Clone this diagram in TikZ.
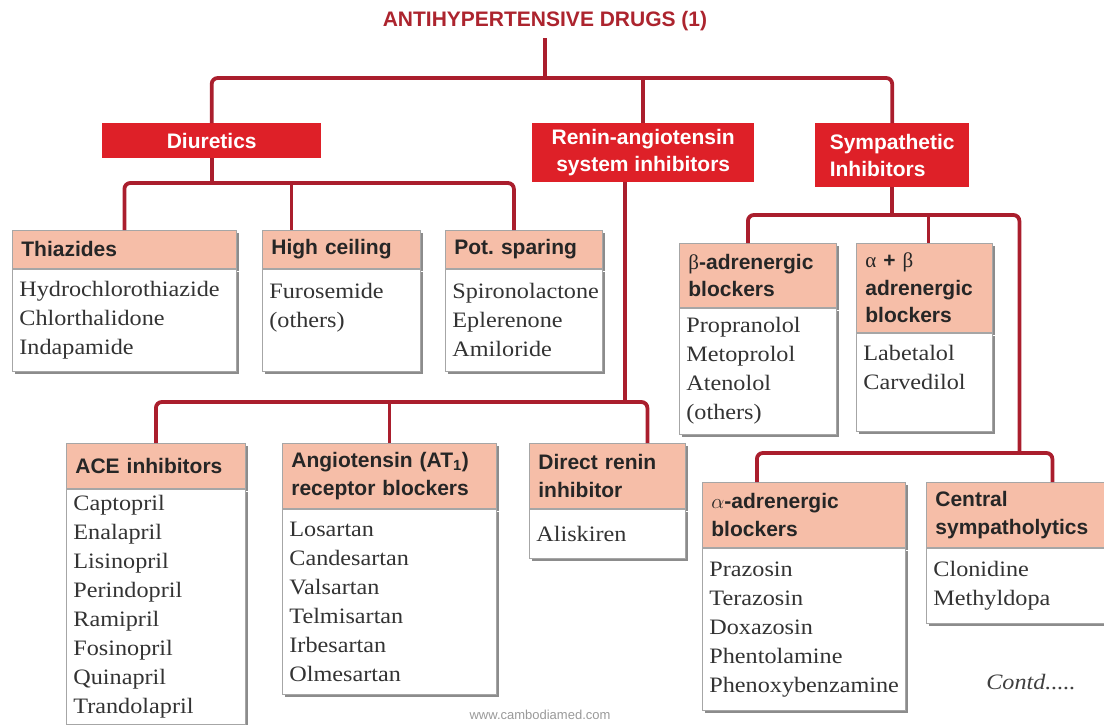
\documentclass[tikz,border=0pt]{standalone}
\usepackage{fontspec}
\setmainfont{Liberation Serif}
\setsansfont{Liberation Sans}
\newfontfamily\drugfont[FakeStretch=1.1]{Liberation Serif}
\usetikzlibrary{positioning,shadows}
\definecolor{linkred}{RGB}{170,30,45}
\definecolor{boxred}{RGB}{222,32,40}
\definecolor{headpink}{RGB}{246,190,168}
\definecolor{titlered}{RGB}{172,36,46}

\begin{document}
\begin{tikzpicture}[x=1pt,y=-1pt,
  link/.style={draw=linkred,line width=3.8pt,rounded corners=6pt},
  classbox/.style={fill=boxred,text=white,anchor=north west,inner sep=0pt,font=\sffamily\bfseries\fontsize{21}{27}\selectfont},
  boxshade/.style={drop shadow={shadow xshift=3pt,shadow yshift=-3pt,fill=black!45,opacity=1}},
  headbox/.style={boxshade,fill=headpink,draw=black!35,line width=.8pt,anchor=north west,align=left,inner xsep=9pt,inner ysep=4pt,text=black!85,font=\sffamily\bfseries\fontsize{21}{27.5}\selectfont},
  listbox/.style={boxshade,fill=white,draw=black!35,line width=.8pt,align=left,inner xsep=7pt,inner ysep=5pt,text=black!80,font=\drugfont\fontsize{22}{29}\selectfont}]
\useasboundingbox (0,0) rectangle (1104,725);
\node[font=\sffamily\bfseries\fontsize{21}{25}\selectfont,text=titlered] (title) at (545,21) {ANTIHYPERTENSIVE DRUGS (1)};

\node[classbox,minimum width=219pt,minimum height=35pt] (dir) at (102,123) {Diuretics};
\node[classbox,align=center,minimum width=222pt,minimum height=59pt] (ras) at (532,123) {Renin-angiotensin\\system inhibitors};
\node[classbox,align=left,minimum width=154pt,minimum height=64pt] (sym) at (815,123) {Sympathetic\\Inhibitors};

\node[headbox,text width=206pt,minimum height=38pt] (thz) at (12,230) {Thiazides};
\node[listbox,text width=210pt,minimum height=102pt,below=0pt of thz] (thzL) {Hydrochlorothiazide\\Chlorthalidone\\Indapamide};
\node[headbox,text width=140pt,minimum height=38pt] (hc) at (262,230) {High ceiling};
\node[listbox,text width=144pt,minimum height=102pt,below=0pt of hc] (hcL) {Furosemide\\(others)\\\mbox{}};
\node[headbox,text width=139pt,minimum height=38pt] (pot) at (445,230) {Pot.\ sparing};
\node[listbox,text width=143pt,minimum height=102pt,below=0pt of pot] (potL) {Spironolactone\\Eplerenone\\Amiloride};

\node[headbox,text width=139pt,minimum height=64pt] (beta) at (679,243) {{\rmfamily\mdseries β}-adrenergic\\blockers};
\node[listbox,text width=143pt,minimum height=126pt,below=0pt of beta] (betaL) {Propranolol\\Metoprolol\\Atenolol\\(others)};
\node[headbox,text width=118pt,minimum height=89pt] (ab) at (856,243) {{\rmfamily\mdseries α} + {\rmfamily\mdseries β}\\adrenergic\\blockers};
\node[listbox,text width=122pt,minimum height=98pt,below=0pt of ab] (abL) {Labetalol\\Carvedilol\\\mbox{}};

\node[headbox,text width=161pt,minimum height=45pt] (ace) at (66,443) {ACE inhibitors};
\node[listbox,text width=165pt,minimum height=235pt,below=0pt of ace] (aceL) {Captopril\\Enalapril\\Lisinopril\\Perindopril\\Ramipril\\Fosinopril\\Quinapril\\Trandolapril};
\node[headbox,text width=196pt,minimum height=65pt] (arb) at (282,443) {Angiotensin (AT\textsubscript{1})\\receptor blockers};
\node[listbox,text width=200pt,minimum height=185pt,below=0pt of arb] (arbL) {Losartan\\Candesartan\\Valsartan\\Telmisartan\\Irbesartan\\Olmesartan};
\node[headbox,text width=138pt,minimum height=65pt] (dri) at (529,443) {Direct renin\\inhibitor};
\node[listbox,text width=142pt,minimum height=49pt,below=0pt of dri] (driL) {Aliskiren};

\node[headbox,text width=185pt,minimum height=65pt] (alpha) at (702,482) {$\alpha$-adrenergic\\blockers};
\node[listbox,text width=189pt,minimum height=162pt,below=0pt of alpha] (alphaL) {Prazosin\\Terazosin\\Doxazosin\\Phentolamine\\Phenoxybenzamine};
\node[headbox,text width=172pt,minimum height=65pt] (cen) at (926,482) {Central\\sympatholytics};
\node[listbox,text width=176pt,minimum height=75pt,below=0pt of cen] (cenL) {Clonidine\\Methyldopa};

\node[font=\drugfont\itshape\fontsize{22}{26}\selectfont,text=black!75] (contd) at (1031,682) {Contd.....};
\node[font=\sffamily\fontsize{13}{15}\selectfont,text=black!40] (web) at (540,715) {www.cambodiamed.com};

\path (dir.north) ++(0,-45) coordinate (tbar);
\draw[link] (dir.north) -- (tbar) -| (sym.north);
\draw[link] ([yshift=-4pt]title.south) -- (title.south |- tbar);
\draw[link] (ras.north |- tbar) -- (ras.north);

\path (thz.north) ++(0,-47) coordinate (dbar);
\coordinate (hcTop) at ([xshift=-50pt]hc.north);
\coordinate (potTop) at ([xshift=-10pt]pot.north);
\draw[link] (thz.north) -- (dbar) -| (potTop);
\draw[link] (hcTop |- dbar) -- (hcTop);
\draw[link] (dir.south) -- (dir.south |- dbar);

\path (ace.north) ++(0,-41) coordinate (rbar);
\coordinate (driTop) at ([xshift=40pt]dri.north);
\coordinate (rasOut) at ([xshift=-18pt]ras.south);
\draw[link] (ace.north) -- (rbar) -| (driTop);
\draw[link] (arb.north |- rbar) -- (arb.north);
\draw[link] (rasOut) -- (rasOut |- rbar);

\coordinate (betaTop) at ([xshift=-10pt]beta.north);
\coordinate (abTop) at ([xshift=4pt]ab.north);
\coordinate (alphaTop) at ([xshift=-47pt]alpha.north);
\coordinate (cenTop) at ([xshift=31pt]cen.north);
\path (betaTop) ++(0,-28) coordinate (sbar);
\path (alphaTop) ++(0,-29) coordinate (abar);
\path (cenTop |- abar) ++(-33,0) coordinate (j4);
\draw[link] (betaTop) -- (sbar) -| (j4);
\draw[link] (abTop |- sbar) -- (abTop);
\draw[link] (sym.south) -- (sym.south |- sbar);
\draw[link] (alphaTop) -- (abar) -| (cenTop);
\end{tikzpicture}
\end{document}
